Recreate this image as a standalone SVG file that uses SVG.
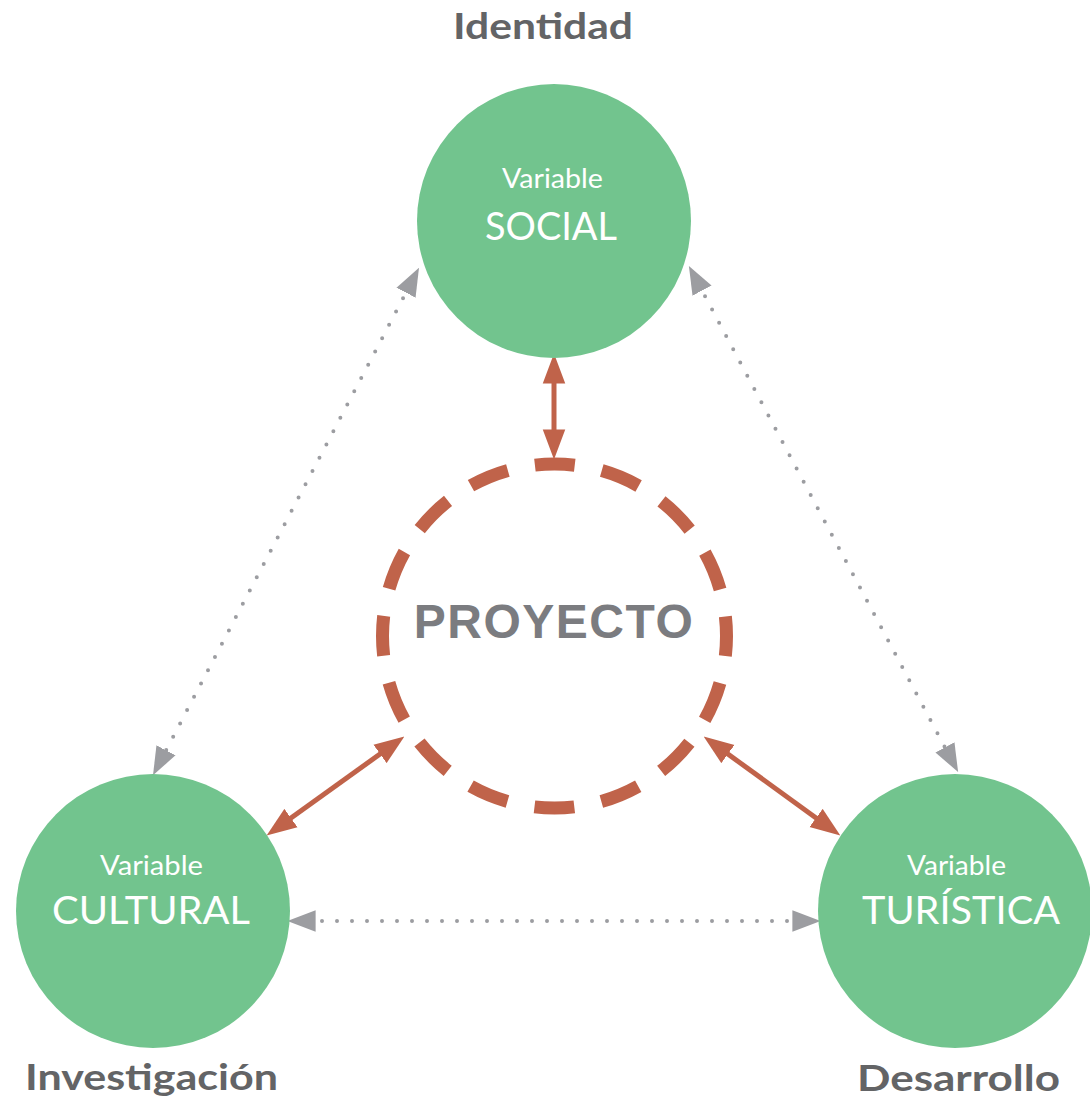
<svg xmlns="http://www.w3.org/2000/svg" width="1090" height="1102" viewBox="0 0 1090 1102">
<style>
.node{fill:#72c48e}
.var{font-family:Lato,"Open Sans",sans-serif;font-size:27px;fill:#ffffff;text-anchor:middle}
.name{font-family:Lato,"Open Sans",sans-serif;font-size:38px;fill:#ffffff;text-anchor:middle}
.lbl{font-family:Lato,"Open Sans",sans-serif;font-weight:bold;font-size:37px;fill:#636466;text-anchor:middle}
.proj{font-family:"Liberation Sans",Arial,sans-serif;font-weight:bold;font-size:48px;fill:#7b7c80;text-anchor:middle;letter-spacing:1.5px}
.rel{stroke:#c0634a;stroke-width:5;fill:none;marker-start:url(#oa);marker-end:url(#oa)}
.dot{stroke:#9c9da1;stroke-width:4;fill:none;stroke-linecap:round;stroke-dasharray:0 15;marker-start:url(#ga);marker-end:url(#ga)}
</style>
<defs>
<marker id="oa" markerUnits="userSpaceOnUse" markerWidth="30" markerHeight="24" viewBox="0 0 28 21" refX="8" refY="10.5" orient="auto-start-reverse">
<path d="M0,0 L28,10.5 L0,21 z" fill="#c0634a"/>
</marker>
<marker id="ga" markerUnits="userSpaceOnUse" markerWidth="28" markerHeight="22" viewBox="0 0 26 20" refX="8" refY="10" orient="auto-start-reverse">
<path d="M0,0 L26,10 L0,20 z" fill="#9c9da1"/>
</marker>
</defs>
<g id="connectors">
<line class="rel" x1="554" y1="375" x2="554" y2="438"/>
<line class="rel" x1="284" y1="823" x2="387" y2="749"/>
<line class="rel" x1="721" y1="749" x2="823" y2="823"/>
<line class="dot" x1="410" y1="285" x2="162" y2="758"/>
<line class="dot" x1="698" y1="283" x2="949" y2="755"/>
<line class="dot" x1="307" y1="921" x2="801" y2="921"/>
</g>
<g id="proyecto">
<circle cx="554.5" cy="636" r="172" fill="none" stroke="#c0634a" stroke-width="13" stroke-dasharray="40 27.544" stroke-dashoffset="20"/>
<text class="proj" x="554" y="638">PROYECTO</text>
</g>
<g id="social">
<circle class="node" cx="554" cy="221" r="137"/>
<text class="var" x="552.5" y="188" textLength="101" lengthAdjust="spacingAndGlyphs">Variable</text>
<text class="name" x="551" y="240" textLength="132" lengthAdjust="spacingAndGlyphs">SOCIAL</text>
</g>
<g id="cultural">
<circle class="node" cx="153" cy="911" r="137"/>
<text class="var" x="151.5" y="875" textLength="103" lengthAdjust="spacingAndGlyphs">Variable</text>
<text class="name" x="151" y="924" textLength="198" lengthAdjust="spacingAndGlyphs">CULTURAL</text>
</g>
<g id="turistica">
<circle class="node" cx="955" cy="911" r="137"/>
<text class="var" x="956.5" y="875" textLength="99" lengthAdjust="spacingAndGlyphs">Variable</text>
<text class="name" x="961" y="924" textLength="198" lengthAdjust="spacingAndGlyphs">TURÍSTICA</text>
</g>
<g id="labels">
<text class="lbl" x="543" y="39" textLength="180" lengthAdjust="spacingAndGlyphs">Identidad</text>
<text class="lbl" x="151.5" y="1090" textLength="253" lengthAdjust="spacingAndGlyphs">Investigación</text>
<text class="lbl" x="958.5" y="1091" textLength="203" lengthAdjust="spacingAndGlyphs">Desarrollo</text>
</g>
</svg>
